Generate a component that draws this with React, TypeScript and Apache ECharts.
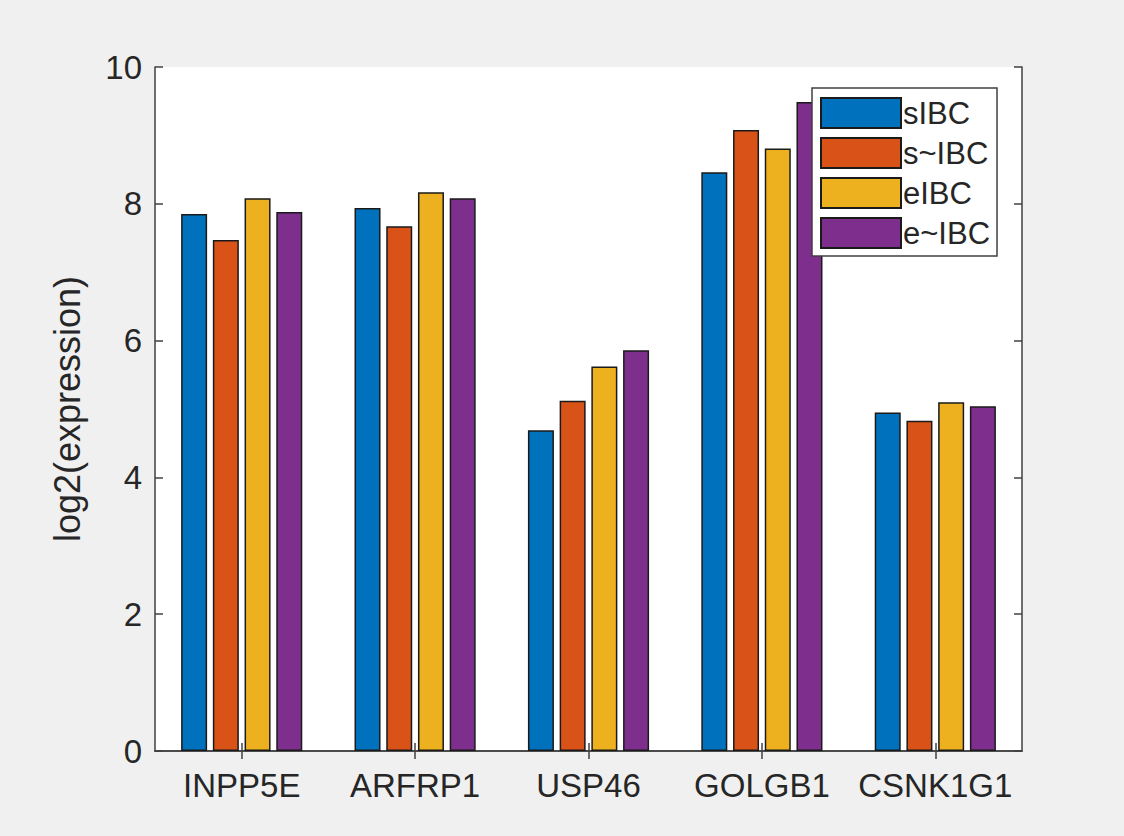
import React, { useEffect, useRef } from "react";
import * as echarts from "echarts";

const categories = ["INPP5E", "ARFRP1", "USP46", "GOLGB1", "CSNK1G1"];
const seriesNames = ["sIBC", "s~IBC", "eIBC", "e~IBC"];
const sIBC = [7.85, 7.94, 4.69, 8.46, 4.95];
const sNotIBC = [7.47, 7.67, 5.12, 9.08, 4.83];
const eIBC = [8.08, 8.17, 5.62, 8.81, 5.1];
const eNotIBC = [7.88, 8.08, 5.86, 9.49, 5.04];
const seriesValues = [sIBC, sNotIBC, eIBC, eNotIBC];
const colors = ["#0072BD", "#D95319", "#EDB120", "#7E2F8E"];

const FONT = "'Liberation Sans', Arial, Helvetica, sans-serif";
const AXIS_COLOR = "#404040";
const TEXT_COLOR = "#262626";

export default function App() {
  const ref = useRef<HTMLDivElement>(null);

  useEffect(() => {
    document.body.style.margin = "0";
    if (!ref.current) return;
    const chart = echarts.init(ref.current, undefined, { renderer: "svg" });
    const axisLine = { show: true, lineStyle: { color: AXIS_COLOR, width: 1.5 } };
    const axisTick = { show: true, inside: true, length: 8, lineStyle: { color: AXIS_COLOR, width: 1.5 } };
    chart.setOption({
      animation: false,
      backgroundColor: "#F0F0F0",
      textStyle: { fontFamily: FONT },
      grid: {
        left: 155,
        top: 67,
        right: 102,
        bottom: 85,
        show: true,
        backgroundColor: "#FFFFFF",
        borderWidth: 0,
      },
      legend: {
        orient: "vertical",
        left: 812,
        top: 88,
        padding: [9, 7, 7, 8],
        itemWidth: 80,
        itemHeight: 30,
        itemGap: 8,
        backgroundColor: "#FFFFFF",
        borderColor: AXIS_COLOR,
        borderWidth: 1.5,
        borderRadius: 0,
        icon: "rect",
        textStyle: { fontSize: 31, color: TEXT_COLOR, fontFamily: FONT, padding: [0, 0, 0, -3] },
        data: seriesNames,
      },
      xAxis: [
        {
          type: "category",
          data: categories,
          position: "bottom",
          axisLine,
          axisTick: { ...axisTick, alignWithLabel: true, interval: 0 },
          axisLabel: { fontSize: 33, color: TEXT_COLOR, margin: 18, fontFamily: FONT, interval: 0 },
          splitLine: { show: false },
        },
        {
          type: "category",
          data: categories,
          position: "top",
          axisLine,
          axisTick: { ...axisTick, alignWithLabel: true, interval: 0 },
          axisLabel: { show: false, interval: 0 },
          splitLine: { show: false },
        },
      ],
      yAxis: [
        {
          type: "value",
          min: 0,
          max: 10,
          interval: 2,
          position: "left",
          axisLine,
          axisTick,
          axisLabel: { fontSize: 33, color: TEXT_COLOR, margin: 13, fontFamily: FONT },
          splitLine: { show: false },
          name: "log2(expression)",
          nameLocation: "middle",
          nameGap: 70,
          nameTextStyle: { fontSize: 36, color: TEXT_COLOR, fontFamily: FONT },
        },
        {
          type: "value",
          min: 0,
          max: 10,
          interval: 2,
          position: "right",
          axisLine,
          axisTick,
          axisLabel: { show: false },
          splitLine: { show: false },
        },
      ],
      series: seriesNames.map((name, i) => ({
        name,
        type: "bar",
        xAxisIndex: 0,
        yAxisIndex: 0,
        data: seriesValues[i],
        barWidth: 26,
        barGap: "22%",
        itemStyle: { color: colors[i], borderColor: "#1a1a1a", borderWidth: 1.5 },
      })),
    });
    return () => chart.dispose();
  }, []);

  return <div ref={ref} style={{ width: 1124, height: 836 }} />;
}
